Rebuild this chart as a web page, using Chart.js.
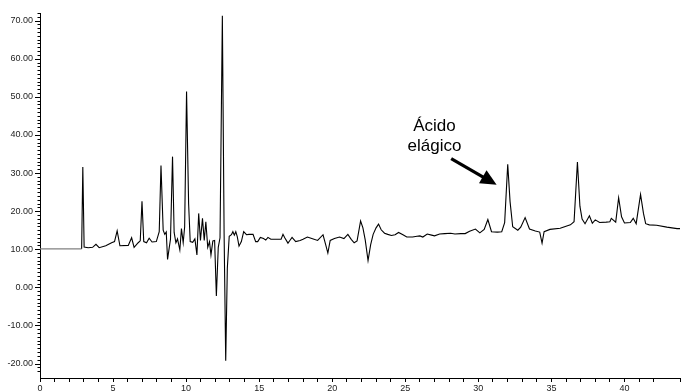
<!DOCTYPE html>
<html>
<head>
<meta charset="utf-8">
<script src="https://cdn.jsdelivr.net/npm/chart.js@4.4.1/dist/chart.umd.min.js"></script>
<style>
  html, body { margin: 0; padding: 0; background: #fff; }
  #wrap { width: 681px; height: 392px; position: relative; }
</style>
</head>
<body>
<div id="wrap"><canvas id="c"></canvas></div>
<script>
// Retention time (min)
const times = [
  0, 2.85, 2.93, 3.02, 3.3, 3.6, 3.83, 4.05, 4.5, 4.9, 5.1, 5.28, 5.47, 6.04, 6.27, 6.44,
  6.72, 6.86, 6.98, 7.1, 7.29, 7.47, 7.67, 7.96, 8.16, 8.28, 8.43, 8.54, 8.64, 8.73, 8.84,
  8.93, 9.07, 9.18, 9.3, 9.41, 9.57, 9.68, 9.8, 9.9, 10.03, 10.17, 10.28, 10.45, 10.6,
  10.74, 10.86, 10.98, 11.12, 11.24, 11.35, 11.48, 11.6, 11.7, 11.83, 11.95, 12.07, 12.2,
  12.32, 12.48, 12.6, 12.71, 12.82, 12.95, 13.1, 13.2, 13.3, 13.4, 13.5, 13.62, 13.78,
  13.94, 14.13, 14.3, 14.58, 14.76, 14.9, 15.08, 15.3, 15.45, 15.6, 15.8, 16.2, 16.5,
  16.63, 16.75, 16.97, 17.1, 17.25, 17.5, 17.8, 18.0, 18.3, 18.6, 19.0, 19.37, 19.55,
  19.7, 19.86, 20.15, 20.5, 20.8, 21.07, 21.3, 21.5, 21.7, 21.94, 22.1, 22.26, 22.45,
  22.63, 22.8, 23.0, 23.17, 23.35, 23.58, 23.8, 24.05, 24.3, 24.54, 24.84, 25.1, 25.5,
  25.8, 26.0, 26.2, 26.5, 26.8, 27.0, 27.35, 27.7, 28.1, 28.4, 28.8, 29.1, 29.4, 29.8,
  30.1, 30.4, 30.65, 30.9, 31.3, 31.6, 31.8, 32.01, 32.17, 32.35, 32.7, 32.9, 33.2, 33.5,
  33.9, 34.2, 34.36, 34.5, 34.9, 35.6, 36.3, 36.55, 36.78, 36.95, 37.1, 37.3, 37.6, 37.8,
  38.0, 38.3, 38.75, 39.0, 39.1, 39.4, 39.6, 39.8, 40.0, 40.4, 40.6, 40.8, 41.1, 41.3,
  41.45, 41.7, 42.2, 42.9, 43.6, 43.8
];
// Detector signal
const signal = [
  10.1, 10.1, 31.6, 10.6, 10.4, 10.5, 11.3, 10.4, 10.9, 11.7, 12.0, 14.8, 10.9, 11.0, 13.0, 10.5,
  11.7, 12.2, 22.6, 12.0, 11.7, 12.9, 11.9, 12.0, 14.6, 32.0, 15.0, 13.9, 14.5, 7.3, 10.3,
  12.6, 34.3, 14.4, 11.7, 12.7, 9.8, 15.4, 11.7, 15.9, 51.4, 22.0, 12.0, 11.8, 12.7,
  8.5, 19.4, 12.3, 18.1, 12.3, 17.2, 10.5, 12.0, 8.5, 12.2, 12.3, -2.3, 10.5,
  13.0, 71.3, 14.0, -19.3, 5.0, 13.4, 13.8, 14.6, 13.7, 14.6, 13.3, 10.8, 12.0,
  14.6, 13.8, 13.9, 13.9, 12.0, 12.0, 13.1, 12.8, 12.4, 13.1, 12.6, 12.6, 12.6,
  13.9, 13.0, 11.6, 12.3, 13.1, 12.0, 12.3, 12.6, 13.2, 12.8, 12.3, 13.8, 11.2,
  9.0, 12.3, 12.8, 13.2, 12.8, 13.9, 12.6, 11.7, 12.2, 17.4, 15.6, 12.4, 7.0,
  11.2, 13.9, 15.6, 16.6, 15.1, 14.2, 13.9, 13.6, 13.8, 14.4, 13.8, 13.2, 13.2,
  13.4, 13.5, 13.2, 14.0, 13.7, 13.5, 14.0, 14.1, 14.2, 14.0, 14.1, 14.1, 14.7, 15.3,
  14.3, 15.2, 17.8, 14.6, 14.5, 14.6, 17.0, 32.3, 22.5, 15.9, 15.0, 15.8, 18.3, 15.3,
  14.8, 14.5, 11.6, 14.6, 15.2, 15.5, 16.4, 17.2, 32.9, 21.3, 17.9, 16.7, 18.8, 16.8,
  17.7, 17.0, 17.1, 17.2, 18.1, 17.1, 23.5, 18.5, 16.9, 17.0, 18.1, 16.7, 24.4, 19.4,
  16.7, 16.4, 16.3, 15.8, 15.4, 15.4
];
// Axis ranges and labels
const xRange = [0, 43.8];
const yRange = [-23.8, 72];
const xLabelEvery = 5;
const yLabelEvery = 10;
// Annotation text and arrow (data units)
const annotLines = ['Ácido', 'elágico'];
const annotAnchor = { x: 27.0, y: [42.2, 37.0] };
const arrowFrom = { x: 28.14, y: 33.8 };
const arrowTo = { x: 31.25, y: 26.9 };

const points = times.map((t, i) => ({ x: t, y: signal[i] }));

const decorPlugin = {
  id: 'decor',
  afterDraw(chart) {
    const ctx = chart.ctx;
    const xs = chart.scales.x, ys = chart.scales.y;
    const left = chart.chartArea.left;
    ctx.save();
    // y-axis tick marks: long at labelled values, short otherwise
    ctx.strokeStyle = '#000';
    ctx.lineWidth = 1;
    ys.ticks.forEach(t => {
      if (!Number.isInteger(t.value)) return;
      const py = Math.round(ys.getPixelForValue(t.value)) + 0.5;
      const len = (t.value % yLabelEvery === 0) ? 5 : 2.5;
      ctx.beginPath();
      ctx.moveTo(left - len, py);
      ctx.lineTo(left, py);
      ctx.stroke();
    });
    // annotation text
    ctx.fillStyle = '#000';
    ctx.font = '17px "Liberation Sans", Arial, sans-serif';
    ctx.textAlign = 'center';
    ctx.textBaseline = 'middle';
    annotLines.forEach((s, i) => {
      ctx.fillText(s, xs.getPixelForValue(annotAnchor.x), ys.getPixelForValue(annotAnchor.y[i]));
    });
    // arrow
    const x0 = xs.getPixelForValue(arrowFrom.x), y0 = ys.getPixelForValue(arrowFrom.y);
    const x1 = xs.getPixelForValue(arrowTo.x), y1 = ys.getPixelForValue(arrowTo.y);
    const dx = x1 - x0, dy = y1 - y0, L = Math.hypot(dx, dy);
    const ux = dx / L, uy = dy / L;
    const headLen = 16, headHalf = 7.5;
    const bx = x1 - ux * headLen, by = y1 - uy * headLen;
    ctx.lineWidth = 3.2;
    ctx.beginPath();
    ctx.moveTo(x0, y0);
    ctx.lineTo(bx + ux * 2, by + uy * 2);
    ctx.stroke();
    ctx.beginPath();
    ctx.moveTo(x1, y1);
    ctx.lineTo(bx - uy * headHalf, by + ux * headHalf);
    ctx.lineTo(bx + uy * headHalf, by - ux * headHalf);
    ctx.closePath();
    ctx.fill();
    ctx.restore();
  }
};

const tickFont = { family: '"Liberation Sans", Arial, sans-serif', size: 9 };

new Chart(document.getElementById('c'), {
  type: 'line',
  data: {
    datasets: [{
      data: points,
      borderColor: '#000',
      borderWidth: 1.1,
      pointRadius: 0,
      tension: 0,
      fill: false,
      segment: {
        borderColor: c => (c.p1.parsed.x <= 2.85 ? '#808080' : '#000')
      }
    }]
  },
  options: {
    responsive: true,
    maintainAspectRatio: false,
    animation: false,
    devicePixelRatio: 1,
    layout: { padding: { top: 13, left: 0, right: 0, bottom: 0 } },
    plugins: { legend: { display: false }, tooltip: { enabled: false } },
    scales: {
      x: {
        type: 'linear',
        min: xRange[0], max: xRange[1],
        ticks: {
          stepSize: 1, autoSkip: false, maxRotation: 0, minRotation: 0,
          font: tickFont, color: '#222', padding: 1,
          callback: v => (Number.isInteger(v) && v % xLabelEvery === 0 ? String(v) : '')
        },
        grid: { drawOnChartArea: false, tickLength: 4, color: '#000', tickWidth: 1 },
        border: { color: '#000', width: 1 },
        afterFit: s => { s.height = 14; }
      },
      y: {
        type: 'linear',
        min: yRange[0], max: yRange[1],
        ticks: {
          stepSize: 1, autoSkip: false,
          font: tickFont, color: '#222', padding: 7,
          callback: v => (Number.isInteger(v) && v % yLabelEvery === 0 ? v.toFixed(2) : '')
        },
        grid: { drawOnChartArea: false, drawTicks: false },
        border: { color: '#000', width: 1 },
        afterFit: s => { s.width = 40; }
      }
    }
  },
  plugins: [decorPlugin]
});
</script>
</body>
</html>
